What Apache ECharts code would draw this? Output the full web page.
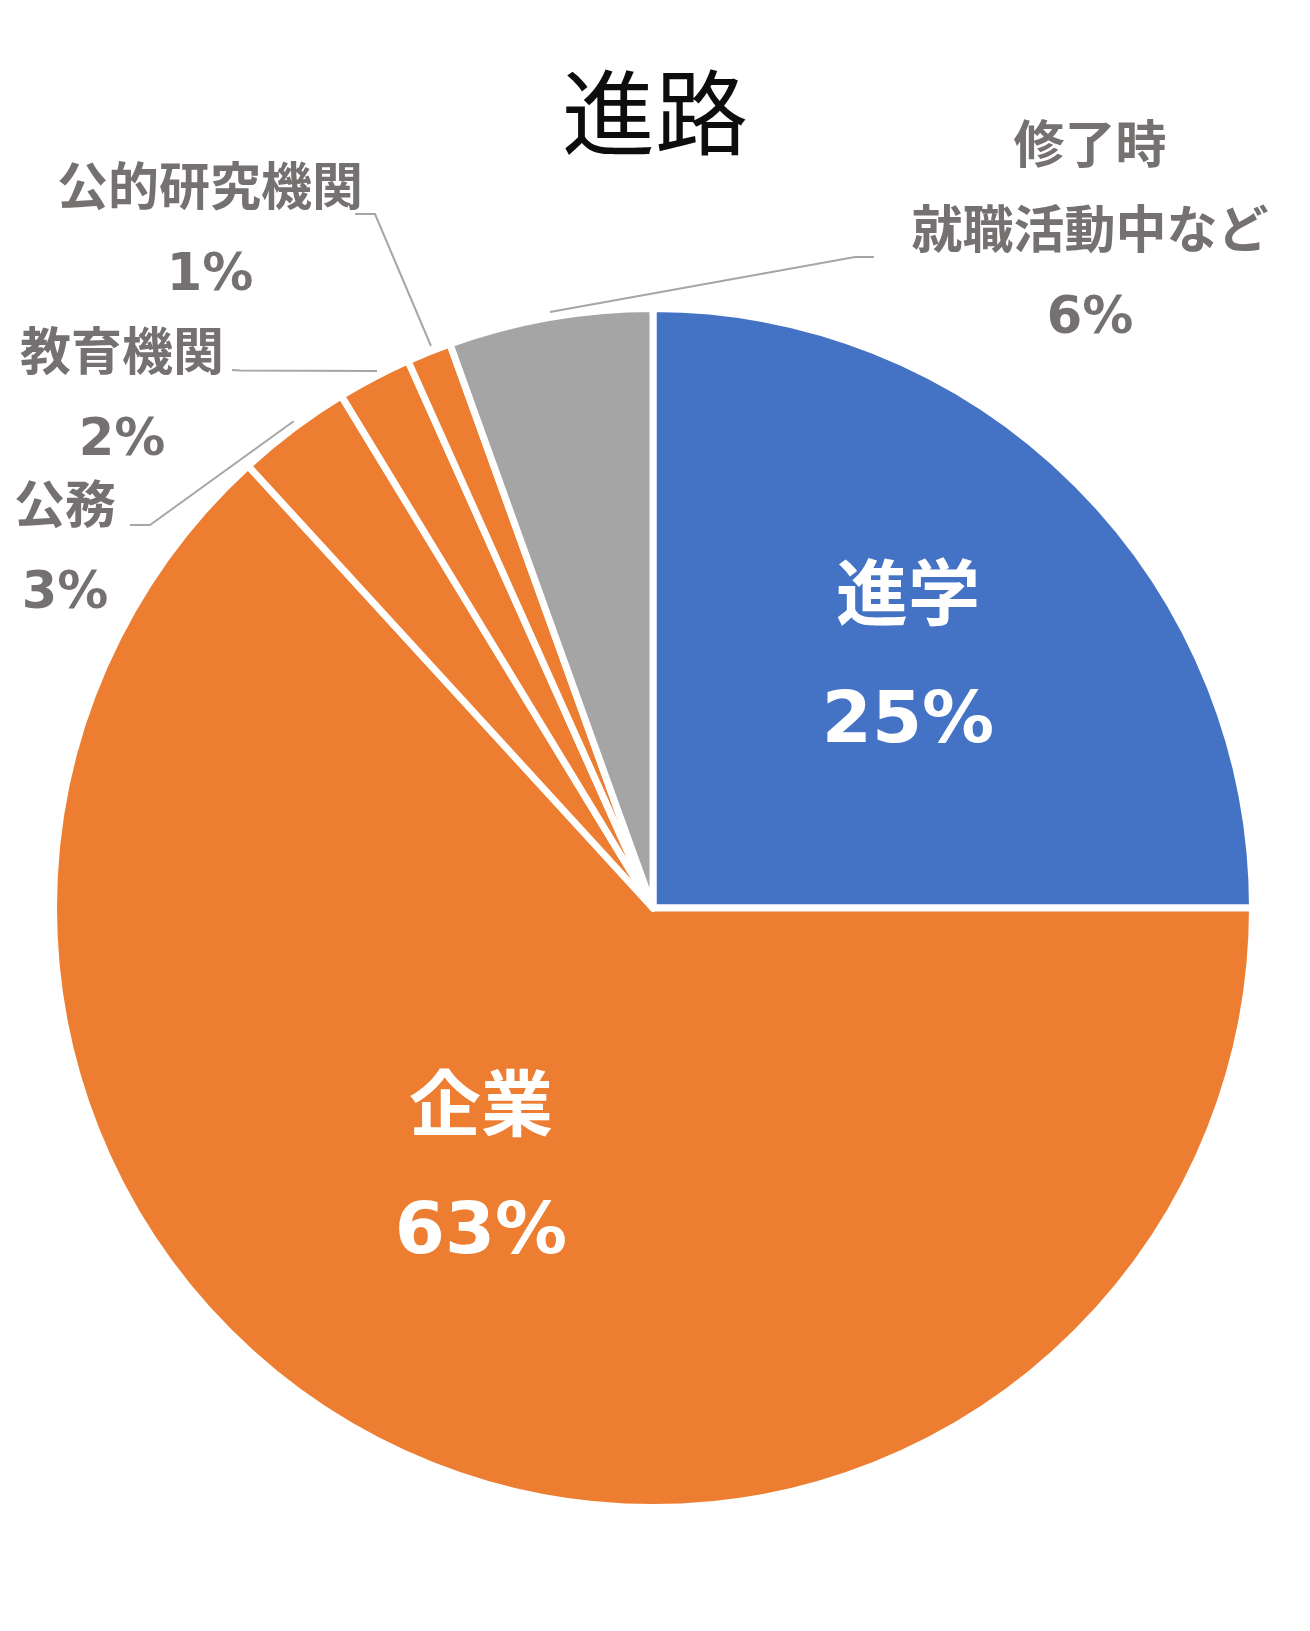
<!DOCTYPE html>
<html>
<head>
<meta charset="utf-8">
<script src="https://cdn.jsdelivr.net/npm/echarts@6/dist/echarts.min.js"></script>
<style>
html,body{margin:0;padding:0;background:#fff;}
#chart{width:1310px;height:1631px;}
</style>
</head>
<body>
<div id="chart"></div>
<script>
// Data
var categories = ['進学', '企業', '公務', '教育機関', '公的研究機関', '修了時\n就職活動中など'];
var values = [25.0, 63.2, 3.1, 2.0, 1.2, 5.5];
var colors = ['#4472C4', '#ED7D31', '#ED7D31', '#ED7D31', '#ED7D31', '#A5A5A5'];
var titleText = '進路';

// Label layout (positions only)
var insideIdx = [0, 1];
var labelPos = [
  {x: 908, y: 662},
  {x: 481, y: 1173},
  {x: 65, y: 552, line: [[293.6, 421.3], [150, 525], [130, 525]]},
  {x: 122, y: 399, line: [[377, 371], [240, 370.4], [232, 370]]},
  {x: 210, y: 234, line: [[431, 346], [375, 214], [355, 214]]},
  {x: 1090, y: 235, line: [[550, 312], [855, 257], [874, 257]]}
];

var fontFam = '"DejaVu Sans", "Noto Sans CJK JP", sans-serif';

var seriesData = categories.map(function (c, i) {
  var inside = insideIdx.indexOf(i) >= 0;
  return {
    name: c,
    value: values[i],
    itemStyle: {color: colors[i]},
    label: inside ? {
      position: 'inside',
      color: '#ffffff',
      fontSize: 72,
      lineHeight: 123
    } : {
      position: 'outside',
      color: '#767171',
      fontSize: 51,
      lineHeight: 85
    },
    labelLine: {show: !inside}
  };
});

var chart = echarts.init(document.getElementById('chart'), null, {renderer: 'canvas'});
chart.setOption({
  backgroundColor: '#ffffff',
  animation: false,
  title: {
    text: titleText,
    left: 'center',
    top: 61,
    textStyle: {
      fontFamily: '"Noto Sans CJK JP", sans-serif',
      fontWeight: 'normal',
      fontSize: 93,
      color: '#0d0d0d'
    }
  },
  series: [{
    type: 'pie',
    center: [653, 908],
    radius: [0, 599.5],
    startAngle: 90,
    clockwise: true,
    avoidLabelOverlap: false,
    percentPrecision: 0,
    itemStyle: {borderColor: '#ffffff', borderWidth: 7},
    label: {
      show: true,
      formatter: '{b}\n{d}%',
      fontFamily: fontFam,
      fontWeight: 'bold'
    },
    labelLine: {
      show: true,
      lineStyle: {color: '#A6A6A6', width: 2}
    },
    labelLayout: function (params) {
      var p = labelPos[params.dataIndex];
      var r = {x: p.x, y: p.y, align: 'center', verticalAlign: 'middle'};
      if (p.line) r.labelLinePoints = p.line;
      return r;
    },
    data: seriesData
  }]
});
</script>
</body>
</html>
